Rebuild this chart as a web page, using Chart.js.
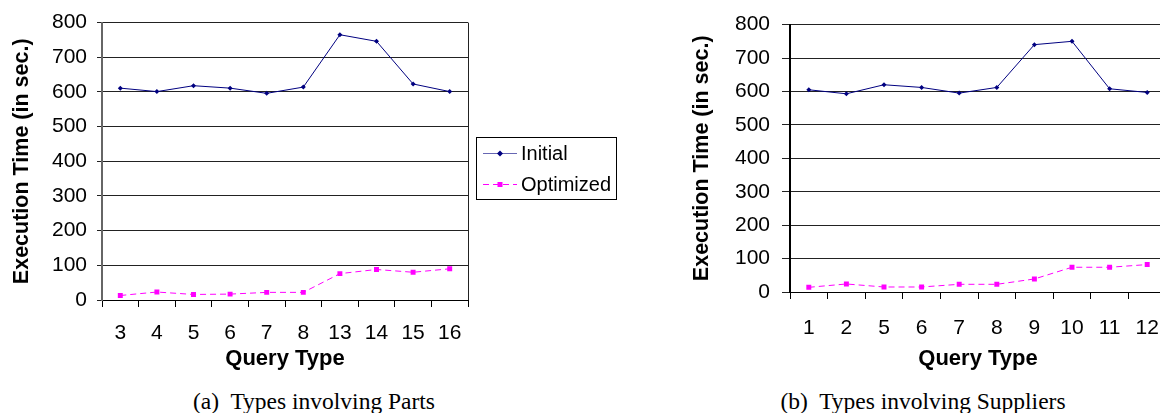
<!DOCTYPE html>
<html>
<head>
<meta charset="utf-8">
<script src="https://cdn.jsdelivr.net/npm/chart.js@4.4.1/dist/chart.umd.min.js"></script>
<style>
    html, body { margin: 0; padding: 0; background: #fff; }
    body { width: 1160px; height: 413px; position: relative; overflow: hidden; }
    canvas { position: absolute; top: 0; }
    #partsChart { left: 0; }
    #suppliersChart { left: 680px; }
    .caption {
        position: absolute; top: 388px; width: 400px; margin-left: -200px;
        text-align: center; font-family: 'Liberation Serif', 'Times New Roman', serif;
        font-size: 23.5px; line-height: 26px; color: #000; white-space: pre;
    }
</style>
</head>
<body>
<canvas id="partsChart" width="630" height="375"></canvas>
<canvas id="suppliersChart" width="500" height="375"></canvas>
<div class="caption" style="left:314px">(a)  Types involving Parts</div>
<div class="caption" style="left:923px">(b)  Types involving Suppliers</div>

<script>
// Values (execution time in sec.)
const partsTypes = ['3', '4', '5', '6', '7', '8', '13', '14', '15', '16'];
const partsInitial = [611, 601, 618, 611, 596, 614, 765, 746, 623, 601];
const partsOptimized = [13, 23, 16, 17, 22, 22, 76, 88, 80, 90];

const suppliersTypes = ['1', '2', '5', '6', '7', '8', '9', '10', '11', '12'];
const suppliersInitial = [605, 593, 620, 612, 595, 612, 740, 750, 608, 597];
const suppliersOptimized = [14, 24, 15, 15, 23, 23, 39, 74, 74, 82];

const seriesNames = ['Initial', 'Optimized'];
const yMin = 0, yMax = 800, yStep = 100;

const FONT = "'Liberation Sans', Arial, sans-serif";

// draws the marker for a dataset (also used by the legend)
function drawMarker(ctx, style, color, x, y, r) {
    ctx.save();
    ctx.fillStyle = color;
    ctx.beginPath();
    if (style === 'rectRot') {
        ctx.moveTo(x, y - r); ctx.lineTo(x + r, y); ctx.lineTo(x, y + r); ctx.lineTo(x - r, y);
    } else {
        ctx.rect(x - r, y - r, r * 2, r * 2);
    }
    ctx.closePath();
    ctx.fill();
    ctx.restore();
}

// frame on the right side of the plot (left panel only)
const framePlugin = {
    id: 'frame',
    afterDraw(chart) {
        const { ctx, chartArea: a } = chart;
        ctx.save();
        ctx.strokeStyle = '#222';
        ctx.lineWidth = 1;
        ctx.beginPath();
        ctx.moveTo(Math.round(a.right) + 0.5, a.top);
        ctx.lineTo(Math.round(a.right) + 0.5, a.bottom);
        ctx.stroke();
        ctx.restore();
    }
};

// boxed legend to the right of the left panel
const boxLegend = {
    id: 'boxLegend',
    afterDraw(chart) {
        const ctx = chart.ctx;
        const box = { x: 476, y: 137, w: 140, h: 62 };
        ctx.save();
        ctx.strokeStyle = '#000';
        ctx.lineWidth = 1;
        ctx.strokeRect(box.x + 0.5, box.y + 0.5, box.w, box.h);
        ctx.font = '20px ' + FONT;
        ctx.textBaseline = 'middle';
        ctx.fillStyle = '#000';
        chart.data.datasets.forEach((ds, i) => {
            const y = box.y + 16 + i * 31;
            ctx.save();
            ctx.strokeStyle = ds.borderColor;
            ctx.globalAlpha = i === 0 ? 0.6 : 1;
            ctx.lineWidth = 1;
            ctx.setLineDash(ds.borderDash || []);
            ctx.beginPath();
            ctx.moveTo(box.x + 7, y + 0.5);
            ctx.lineTo(box.x + 41, y + 0.5);
            ctx.stroke();
            ctx.restore();
            drawMarker(ctx, ds.pointStyle, ds.pointBackgroundColor, box.x + 24, y + 0.5, ds.pointStyle === 'rect' ? 2.5 : 3);
            ctx.fillText(ds.label, box.x + 45, y + 1);
        });
        ctx.restore();
    }
};

function makeChart(id, labels, initial, optimized, g) {
    return new Chart(document.getElementById(id), {
        type: 'line',
        data: {
            labels: labels,
            datasets: [
                {
                    label: seriesNames[0],
                    data: initial,
                    borderColor: '#000080',
                    borderWidth: 1,
                    pointStyle: 'rectRot',
                    pointRadius: 2.5,
                    pointBackgroundColor: '#000080',
                    pointBorderWidth: 0,
                    tension: 0
                },
                {
                    label: seriesNames[1],
                    data: optimized,
                    borderColor: '#FF00FF',
                    borderWidth: 1,
                    borderDash: [6, 4],
                    pointStyle: 'rect',
                    pointRadius: 3.5,
                    pointBackgroundColor: '#FF00FF',
                    pointBorderWidth: 0,
                    tension: 0
                }
            ]
        },
        options: {
            responsive: false,
            animation: false,
            layout: { padding: g.padding },
            plugins: { legend: { display: false }, tooltip: { enabled: false } },
            scales: {
                x: {
                    offset: true,
                    grid: { offset: true, drawOnChartArea: false, tickLength: 7, color: '#000' },
                    border: { color: '#000', width: 1 },
                    ticks: { color: '#000', font: { family: FONT, size: 21 }, padding: g.xPad, maxRotation: 0, autoSkip: false },
                    title: { display: true, text: 'Query Type', color: '#000', font: { family: FONT, size: 22, weight: 'bold', lineHeight: 1.2 }, padding: { top: 0, bottom: 3 } },
                    afterFit: (s) => { s.height = g.xHeight; }
                },
                y: {
                    min: yMin,
                    max: yMax,
                    grid: { color: '#222', lineWidth: 1, tickLength: g.yTick },
                    border: { color: g.axisColor, width: 2 },
                    ticks: { stepSize: yStep, color: '#000', font: { family: FONT, size: 21 }, padding: g.yPad },
                    title: { display: true, text: 'Execution Time (in sec.)', color: '#000', font: { family: FONT, size: 21.5, weight: 'bold', lineHeight: 1.2 }, padding: { top: 9, bottom: 0 } },
                    afterFit: (s) => { s.width = g.yWidth; }
                }
            }
        },
        plugins: g.plugins
    });
}

// (a) parts
makeChart('partsChart', partsTypes, partsInitial, partsOptimized, {
    padding: { top: 22, right: 162, bottom: 0, left: 0 },
    xHeight: 75, xPad: 14, yWidth: 102, yTick: 5, yPad: 10,
    axisColor: '#666',
    plugins: [framePlugin, boxLegend]
});

// (b) suppliers
makeChart('suppliersChart', suppliersTypes, suppliersInitial, suppliersOptimized, {
    padding: { top: 21, right: 14, bottom: 0, left: 0 },
    xHeight: 83, xPad: 17, yWidth: 110, yTick: 8, yPad: 12,
    axisColor: '#000',
    plugins: []
});
</script>
</body>
</html>
